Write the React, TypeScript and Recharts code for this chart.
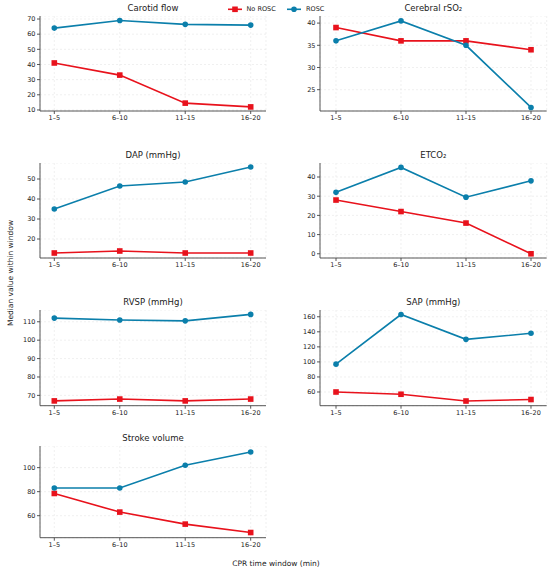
import React from 'react';
import { LineChart, Line, XAxis, YAxis, CartesianGrid } from 'recharts';

const windows = ['1–5', '6–10', '11–15', '16–20'];

const carotidNoRosc = [41, 33, 14.5, 12];
const carotidRosc = [64, 69, 66.5, 66];
const rso2NoRosc = [39, 36, 36, 34];
const rso2Rosc = [36, 40.5, 35, 21];
const dapNoRosc = [13, 14, 13, 13];
const dapRosc = [35, 46.5, 48.5, 56];
const etco2NoRosc = [28, 22, 16, 0];
const etco2Rosc = [32, 45, 29.5, 38];
const rvspNoRosc = [67, 68, 67, 68];
const rvspRosc = [112, 111, 110.5, 114];
const sapNoRosc = [60, 57, 48, 50];
const sapRosc = [97, 163, 130, 138];
const svNoRosc = [78.5, 63, 53, 46];
const svRosc = [83, 83, 102, 113];

const carotidTicks = [10, 20, 30, 40, 50, 60, 70];
const rso2Ticks = [25, 30, 35, 40];
const dapTicks = [20, 30, 40, 50];
const etco2Ticks = [0, 10, 20, 30, 40];
const rvspTicks = [70, 80, 90, 100, 110];
const sapTicks = [60, 80, 100, 120, 140, 160];
const svTicks = [60, 80, 100];

const RED = '#e8121c';
const BLUE = '#0b7fab';
const FONT = 'DejaVu Sans, Verdana, sans-serif';

type Panel = {
  title: string;
  noRosc: number[];
  rosc: number[];
  domain: [number, number];
  ticks: number[];
  col: number;
  top: number;
  bottom: number;
};

const panels: Panel[] = [
  { title: 'Carotid flow', noRosc: carotidNoRosc, rosc: carotidRosc, domain: [9.3, 72], ticks: carotidTicks, col: 0, top: 16, bottom: 111 },
  { title: 'Cerebral rSO₂', noRosc: rso2NoRosc, rosc: rso2Rosc, domain: [20.2, 41.6], ticks: rso2Ticks, col: 1, top: 16, bottom: 111 },
  { title: 'DAP (mmHg)', noRosc: dapNoRosc, rosc: dapRosc, domain: [10.5, 58], ticks: dapTicks, col: 0, top: 163, bottom: 258 },
  { title: 'ETCO₂', noRosc: etco2NoRosc, rosc: etco2Rosc, domain: [-2.2, 47.3], ticks: etco2Ticks, col: 1, top: 163, bottom: 258 },
  { title: 'RVSP (mmHg)', noRosc: rvspNoRosc, rosc: rvspRosc, domain: [64.4, 116.4], ticks: rvspTicks, col: 0, top: 310, bottom: 405.7 },
  { title: 'SAP (mmHg)', noRosc: sapNoRosc, rosc: sapRosc, domain: [41.8, 169], ticks: sapTicks, col: 1, top: 310, bottom: 405.7 },
  { title: 'Stroke volume', noRosc: svNoRosc, rosc: svRosc, domain: [41.7, 118], ticks: svTicks, col: 0, top: 446, bottom: 537.7 },
];

const colGeom = [
  { left: 0, width: 275, yw: 40, right: 9, padL: 14.3, padR: 15.3 },
  { left: 275, width: 275, yw: 45, right: 3.3, padL: 16, padR: 15.7 },
];

const XH = 22;

const SquareDot = (props: any) => {
  const { cx, cy } = props;
  if (cx == null || cy == null) return null;
  return <rect x={cx - 2.8} y={cy - 2.8} width={5.6} height={5.6} fill={RED} />;
};

const CircleDot = (props: any) => {
  const { cx, cy } = props;
  if (cx == null || cy == null) return null;
  return <circle cx={cx} cy={cy} r={2.8} fill={BLUE} />;
};

const tickStyle = { fontSize: 6.5, fill: '#222', fontFamily: FONT };

function PanelChart({ p }: { p: Panel }) {
  const g = colGeom[p.col];
  const data = windows.map((w, i) => ({ window: w, noRosc: p.noRosc[i], rosc: p.rosc[i] }));
  const plotH = p.bottom - p.top;
  return (
    <div style={{ position: 'absolute', left: g.left, top: p.top, width: g.width, height: plotH + XH }}>
      <LineChart width={g.width} height={plotH + XH} data={data} margin={{ top: 0, right: g.right, bottom: 0, left: 0 }}>
        <CartesianGrid stroke="#e6e6e6" strokeDasharray="2 2" strokeWidth={0.6} />
        <XAxis
          dataKey="window"
          height={XH}
          padding={{ left: g.padL, right: g.padR }}
          tick={tickStyle}
          tickSize={3}
          tickMargin={1.5}
          stroke="#444"
          strokeWidth={0.9}
          interval={0}
        />
        <YAxis
          width={g.yw}
          type="number"
          domain={p.domain}
          ticks={p.ticks}
          allowDataOverflow
          tick={tickStyle}
          tickSize={3}
          tickMargin={1.5}
          stroke="#444"
          strokeWidth={0.9}
          interval={0}
        />
        <Line dataKey="noRosc" stroke={RED} strokeWidth={1.6} dot={<SquareDot />} isAnimationActive={false} />
        <Line dataKey="rosc" stroke={BLUE} strokeWidth={1.6} dot={<CircleDot />} isAnimationActive={false} />
      </LineChart>
    </div>
  );
}

export default function App() {
  return (
    <div style={{ position: 'absolute', left: 0, top: 0, width: 550, height: 579, background: '#fff', fontFamily: FONT }}>
      {panels.map((p) => (
        <PanelChart key={p.title} p={p} />
      ))}
      <svg width={550} height={579} style={{ position: 'absolute', left: 0, top: 0, pointerEvents: 'none' }}>
        {panels.map((p) => {
          const g = colGeom[p.col];
          const cx = g.left + g.yw + (g.width - g.yw - g.right) / 2;
          return (
            <text key={p.title} x={cx} y={p.top - 8} textAnchor="middle" dominantBaseline="middle" fontSize={8.5} fill="#222" fontFamily={FONT}>
              {p.title}
            </text>
          );
        })}
        {/* legend */}
        <line x1={228} y1={9.3} x2={242} y2={9.3} stroke={RED} strokeWidth={1.6} />
        <rect x={232.2} y={6.5} width={5.6} height={5.6} fill={RED} />
        <text x={246.5} y={9.3} dominantBaseline="middle" fontSize={6.5} fill="#222" fontFamily={FONT}>No ROSC</text>
        <line x1={287} y1={9.3} x2={301} y2={9.3} stroke={BLUE} strokeWidth={1.6} />
        <circle cx={294} cy={9.3} r={2.8} fill={BLUE} />
        <text x={306} y={9.3} dominantBaseline="middle" fontSize={6.5} fill="#222" fontFamily={FONT}>ROSC</text>
        <text x={276} y={564} textAnchor="middle" dominantBaseline="middle" fontSize={7.5} fill="#222" fontFamily={FONT}>CPR time window (min)</text>
        <text x={11} y={273} textAnchor="middle" dominantBaseline="middle" fontSize={7.5} fill="#222" fontFamily={FONT} transform="rotate(-90 11 273)">Median value within window</text>
      </svg>
    </div>
  );
}
